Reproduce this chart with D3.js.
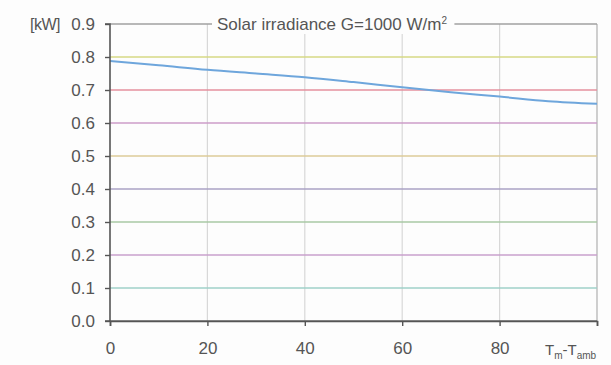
<!DOCTYPE html>
<html>
<head>
<meta charset="utf-8">
<script src="https://cdn.jsdelivr.net/npm/d3@7"></script>
<style>
  body { margin: 0; background: #fdfdfd; }
  svg { font-family: "Liberation Sans", Arial, sans-serif; }
</style>
</head>
<body>
<div id="chart"></div>
<script>
// data
var tempDiff = [0, 10, 20, 30, 40, 50, 60, 70, 80, 90, 100];
var power = [0.788, 0.775, 0.761, 0.750, 0.739, 0.724, 0.708, 0.693, 0.680, 0.666, 0.658];
var yTicks = [0.0, 0.1, 0.2, 0.3, 0.4, 0.5, 0.6, 0.7, 0.8, 0.9];
var xTicks = [0, 20, 40, 60, 80];
var gridColors = ["#6a6a6a", "#9fd0c8", "#c9a0cc", "#a8c8a4", "#aaa2c4",
                  "#dccb98", "#cc9cc8", "#e4909e", "#d6d884", "#a0a0a0"];

var svgWidth = 611, svgHeight = 365;
var margin = { top: 24, right: 14, bottom: 44, left: 110 };
var width = 597 - margin.left;
var height = 321 - margin.top;

var svg = d3.select("#chart").append("svg")
  .attr("width", svgWidth)
  .attr("height", svgHeight);

var g = svg.append("g")
  .attr("transform", `translate(${margin.left}, ${margin.top})`);

var x = d3.scaleLinear().domain([0, 100]).range([0, width]);
var y = d3.scaleLinear().domain([0, 0.9]).range([height, 0]);

// vertical grid
g.selectAll(".vgrid")
  .data([20, 40, 60, 80, 100])
  .enter().append("line")
  .attr("x1", d => x(d)).attr("x2", d => x(d))
  .attr("y1", 0).attr("y2", height)
  .attr("stroke", d => d == 100 ? "#b0b0b0" : "#d8d8d8")
  .attr("stroke-width", 1.2);

// coloured horizontal grid
g.selectAll(".hgrid")
  .data(yTicks)
  .enter().append("line")
  .attr("x1", 0).attr("x2", width)
  .attr("y1", d => y(d)).attr("y2", d => y(d))
  .attr("stroke", (d, i) => gridColors[i])
  .attr("stroke-width", 1.6);

// the curve
var line = d3.line()
  .x((d, i) => x(tempDiff[i]))
  .y(d => y(d))
  .curve(d3.curveMonotoneX);

g.append("path")
  .datum(power)
  .attr("fill", "none")
  .attr("stroke", "#6ea6dc")
  .attr("stroke-width", 2)
  .attr("d", line);

// axes
var leftAxis = d3.axisLeft(y).tickValues(yTicks).tickFormat(d3.format(".1f")).tickSize(5).tickPadding(10);
var bottomAxis = d3.axisBottom(x).tickValues(xTicks.concat([100])).tickFormat(d => d == 100 ? "" : d).tickSize(5).tickPadding(16);

var yAx = g.append("g").call(leftAxis);
var xAx = g.append("g").attr("transform", `translate(0, ${height})`).call(bottomAxis);

[yAx, xAx].forEach(function(a) {
  a.select(".domain").attr("stroke", "#555").attr("stroke-width", 1.6);
  a.selectAll(".tick line").attr("stroke", "#555").attr("stroke-width", 1.4);
  a.selectAll("text").attr("fill", "#555").style("font-size", "17px");
});
yAx.select(".domain").attr("d", `M-5,0H0V${height}H-5`);

// unit label
svg.append("text")
  .attr("x", 30).attr("y", 30)
  .attr("fill", "#555")
  .style("font-size", "16px")
  .style("letter-spacing", "-0.5px")
  .text("[kW]");

// title over top gridline
var title = svg.append("text")
  .attr("x", 217).attr("y", 30)
  .attr("fill", "#555")
  .style("font-size", "17px");
title.append("tspan").text("Solar irradiance G=1000 W/m");
title.append("tspan").attr("dy", -6).style("font-size", "10px").text("2");

var bb = title.node().getBBox();
svg.insert("rect", () => title.node())
  .attr("x", bb.x - 5).attr("y", bb.y)
  .attr("width", bb.width + 12).attr("height", bb.height)
  .attr("fill", "#fdfdfd");

// x axis title
var xl = svg.append("text")
  .attr("x", 545).attr("y", 355)
  .attr("fill", "#555")
  .style("font-size", "15px");
xl.append("tspan").text("T");
xl.append("tspan").attr("dy", 4).style("font-size", "10px").text("m");
xl.append("tspan").attr("dy", -4).text("-T");
xl.append("tspan").attr("dy", 4).style("font-size", "10px").text("amb");
</script>
</body>
</html>
